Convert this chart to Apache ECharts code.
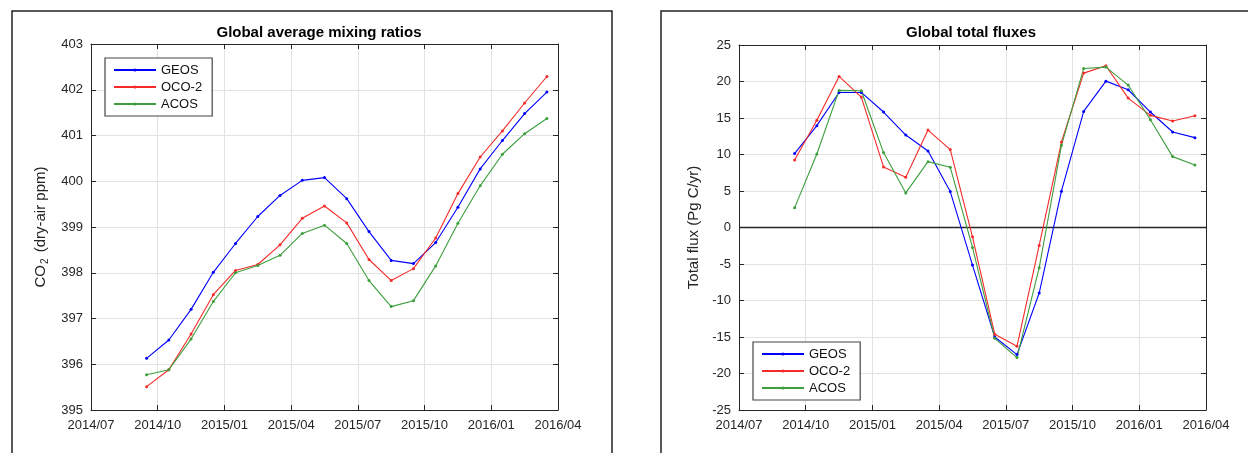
<!DOCTYPE html>
<html>
<head>
<meta charset="utf-8">
<script src="https://cdn.jsdelivr.net/npm/echarts@6/dist/echarts.min.js"></script>
<style>
html,body{margin:0;padding:0;background:#fff;}
#c{width:1248px;height:453px;}
</style>
</head>
<body>
<div id="c"></div>
<script>
// ---- data ----
const months = ['2014-09','2014-10','2014-11','2014-12','2015-01','2015-02','2015-03','2015-04','2015-05','2015-06',
                '2015-07','2015-08','2015-09','2015-10','2015-11','2015-12','2016-01','2016-02','2016-03'];
const tickLabels = ['2014/07','2014/10','2015/01','2015/04','2015/07','2015/10','2016/01','2016/04'];
const seriesNames = ['GEOS','OCO-2','ACOS'];

const mixGEOS = [396.13,396.53,397.20,398.01,398.64,399.23,399.69,400.02,400.08,399.62,398.90,398.27,398.20,398.66,399.43,400.27,400.89,401.48,401.95];
const mixOCO2 = [395.51,395.88,396.66,397.52,398.05,398.18,398.61,399.19,399.46,399.09,398.29,397.83,398.09,398.76,399.73,400.53,401.10,401.71,402.29];
const mixACOS = [395.77,395.88,396.55,397.37,398.00,398.16,398.38,398.86,399.04,398.64,397.83,397.26,397.39,398.15,399.08,399.90,400.59,401.04,401.37];

const fluxGEOS = [10.12,13.95,18.5,18.5,15.82,12.67,10.48,4.92,-5.15,-15.0,-17.41,-8.98,4.97,15.9,20.05,18.87,15.82,13.08,12.31];
const fluxOCO2 = [9.25,14.68,20.69,17.87,8.30,6.88,13.35,10.67,-1.28,-14.63,-16.27,-2.46,11.71,21.15,22.15,17.73,15.36,14.59,15.31];
const fluxACOS = [2.69,10.07,18.78,18.73,10.26,4.74,9.02,8.25,-2.73,-15.18,-17.82,-5.51,11.26,21.79,21.97,19.51,14.77,9.71,8.57];

// ---- helpers ----
const FONT = "'Liberation Sans', Arial, Helvetica, sans-serif";
const AXC = '#262626';
const colors = ['#0000ff', '#f52a2a', '#3c9e3c'];
// position in months since 2014-07-01, points at mid-month
const xPos = months.map(m => { const [y, mo] = m.split('-').map(Number); return (y - 2014) * 12 + (mo - 7) + 0.5; });
const pair = arr => arr.map((v, i) => [xPos[i], v]);

function xAxisPair(gi) {
  const base = {
    type: 'value', gridIndex: gi, min: 0, max: 21, interval: 3,
    axisLine: { show: true, onZero: false, lineStyle: { color: AXC, width: 1 } },
    axisTick: { show: true, inside: true, length: 5, lineStyle: { color: AXC } },
  };
  return [
    Object.assign({}, base, {
      position: 'bottom',
      axisLabel: { show: true, color: AXC, fontFamily: FONT, fontSize: 13, margin: 9,
        formatter: v => tickLabels[Math.round(v / 3)] },
      splitLine: { show: true, lineStyle: { color: '#e2e2e2', width: 1 } }
    }),
    Object.assign({}, base, {
      position: 'top', axisLabel: { show: false }, splitLine: { show: false }
    })
  ];
}
function yAxisPair(gi, min, max, interval, name, nameGap, rich) {
  const base = {
    type: 'value', gridIndex: gi, min: min, max: max, interval: interval,
    axisLine: { show: true, onZero: false, lineStyle: { color: AXC, width: 1 } },
    axisTick: { show: true, inside: true, length: 5, lineStyle: { color: AXC } },
  };
  return [
    Object.assign({}, base, {
      position: 'left',
      name: name, nameLocation: 'middle', nameGap: nameGap, nameRotate: 90,
      nameTextStyle: Object.assign({ color: AXC, fontFamily: FONT, fontSize: 15 }, rich ? { rich: rich } : {}),
      axisLabel: { show: true, color: AXC, fontFamily: FONT, fontSize: 13, margin: 8 },
      splitLine: { show: true, lineStyle: { color: '#e2e2e2', width: 1 } }
    }),
    Object.assign({}, base, {
      position: 'right', axisLabel: { show: false }, splitLine: { show: false }
    })
  ];
}
function mkSeries(name, data, ci, xi, yi) {
  return {
    type: 'line', name: name, data: pair(data), xAxisIndex: xi, yAxisIndex: yi,
    symbol: 'circle', symbolSize: 3, showSymbol: true,
    lineStyle: { color: colors[ci], width: 1.1 },
    itemStyle: { color: colors[ci] },
    animation: false, z: 5
  };
}
function legend(left, top) {
  return {
    show: true, orient: 'vertical', left: left, top: top,
    data: seriesNames,
    itemWidth: 42, itemHeight: 4, itemGap: 3,
    padding: [5, 10, 5, 8],
    borderColor: '#444', borderWidth: 1.2, backgroundColor: '#fff',
    textStyle: { color: '#111', fontFamily: FONT, fontSize: 13, lineHeight: 14 },
    selectedMode: false
  };
}

const chart = echarts.init(document.getElementById('c'), null, { renderer: 'canvas' });
const xa = [].concat(xAxisPair(0), xAxisPair(1));
const ya = [].concat(
  yAxisPair(0, 395, 403, 1, '{t|CO}{s|2}{t| (dry-air ppm)}', 41,
    { t: { fontSize: 15, fontFamily: FONT, color: AXC }, s: { fontSize: 10, fontFamily: FONT, color: AXC, padding: [9, 2, 0, 1] } }),
  yAxisPair(1, -25, 25, 5, 'Total flux (Pg C/yr)', 38, null)
);

const series = [
  mkSeries('GEOS', mixGEOS, 0, 0, 0),
  mkSeries('OCO-2', mixOCO2, 1, 0, 0),
  mkSeries('ACOS', mixACOS, 2, 0, 0),
  Object.assign(mkSeries('GEOS', fluxGEOS, 0, 2, 2), {
    markLine: { silent: true, symbol: ['none', 'none'], animation: false, label: { show: false },
      lineStyle: { color: AXC, width: 1.3, type: 'solid' }, data: [{ yAxis: 0 }] }
  }),
  mkSeries('OCO-2', fluxOCO2, 1, 2, 2),
  mkSeries('ACOS', fluxACOS, 2, 2, 2)
];

chart.setOption({
  animation: false,
  backgroundColor: '#fff',
  title: [
    { text: 'Global average mixing ratios', left: 314, top: 20, textAlign: 'center',
      textStyle: { fontFamily: FONT, fontSize: 15, fontWeight: 'bold', color: '#000' } },
    { text: 'Global total fluxes', left: 966, top: 20, textAlign: 'center',
      textStyle: { fontFamily: FONT, fontSize: 15, fontWeight: 'bold', color: '#000' } }
  ],
  legend: [legend(105, 58), legend(753, 342)],
  grid: [
    { left: 91, right: 690, top: 44, bottom: 43, containLabel: false },
    { left: 739, right: 42, top: 45, bottom: 43, containLabel: false }
  ],
  xAxis: [xa[0], xa[1], xa[2], xa[3]],
  yAxis: [ya[0], ya[1], ya[2], ya[3]],
  series: series,
  graphic: [
    { type: 'rect', shape: { x: 12, y: 11, width: 600, height: 480 }, silent: true,
      style: { fill: null, stroke: '#222', lineWidth: 1.5 }, z: 100 },
    { type: 'rect', shape: { x: 661, y: 11, width: 700, height: 480 }, silent: true,
      style: { fill: null, stroke: '#222', lineWidth: 1.5 }, z: 100 }
  ]
});
</script>
</body>
</html>
